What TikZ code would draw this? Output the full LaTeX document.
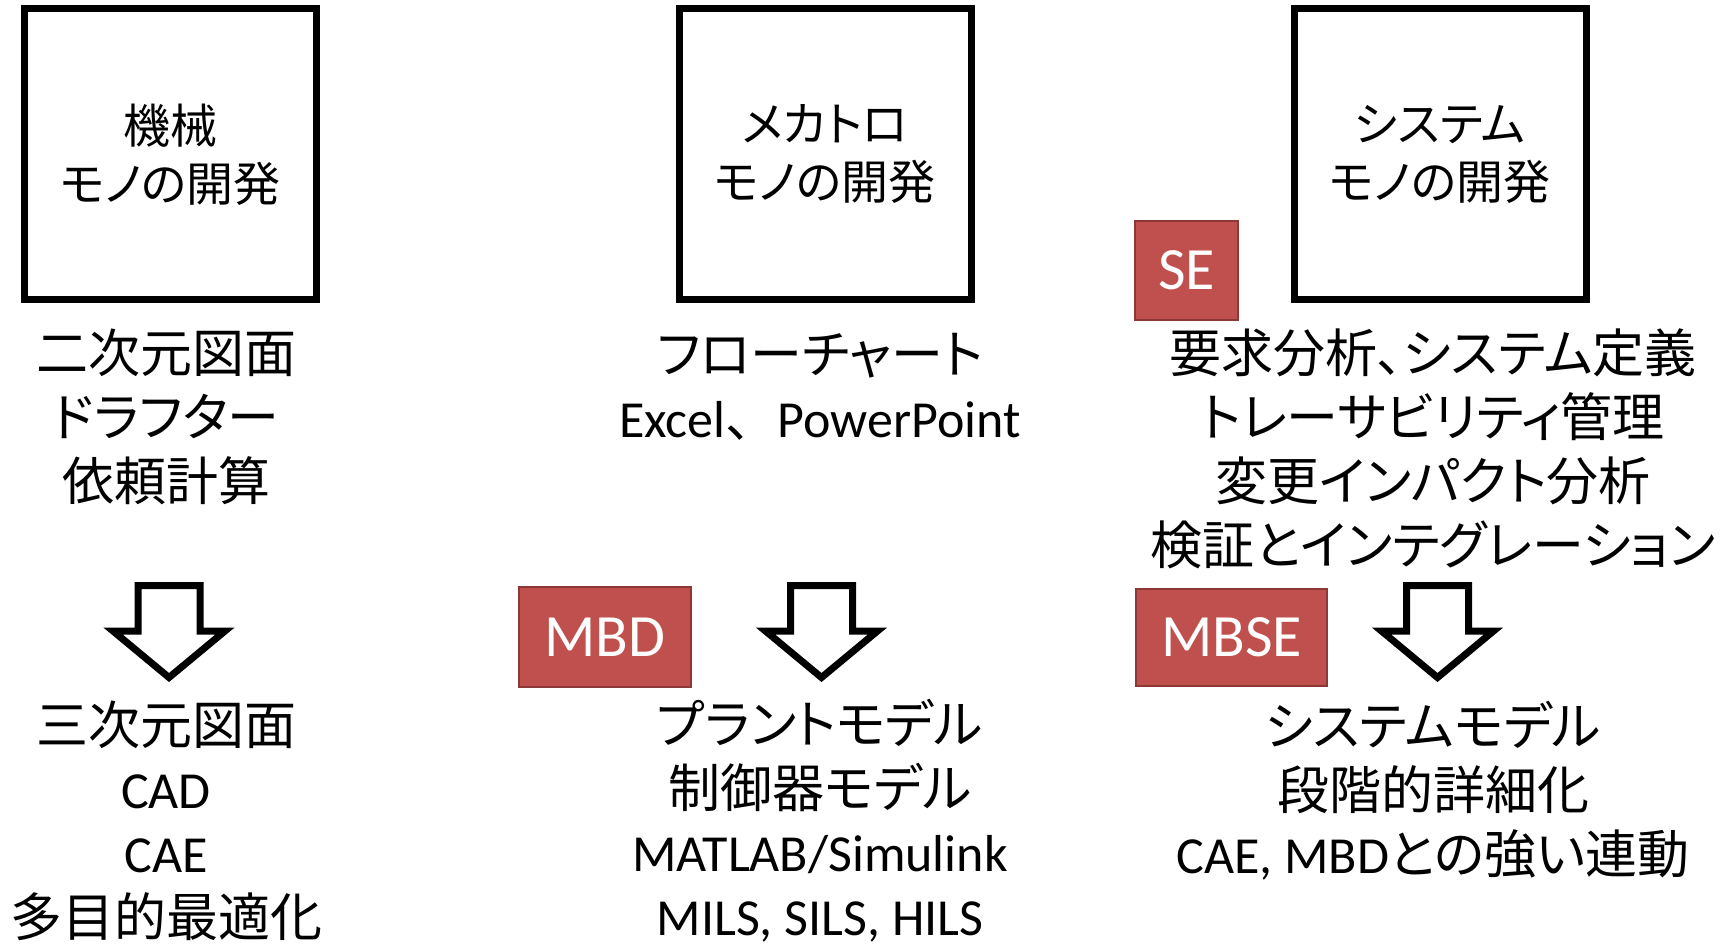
\documentclass[tikz,border=0pt]{standalone}
\usepackage{fontspec}
\setmainfont{Carlito}
\newfontfamily\cjk[RawFeature=+palt]{Noto Sans CJK JP}
\newfontfamily\cjkfull{Noto Sans CJK JP}
\definecolor{labelred}{HTML}{C0504D}
\definecolor{labelredline}{HTML}{8C3836}
\tikzset{
  devbox/.style={draw, line width=7pt, minimum width=292pt, minimum height=291pt, inner sep=0pt, align=center, font=\cjk\fontsize{47}{58}\selectfont},
  txtblock/.style={align=center, inner sep=0pt, font=\fontsize{52}{64}\selectfont},
  redlabel/.style={fill=labelred, draw=labelredline, line width=1.5pt, text=white, inner sep=0pt, font=\fontsize{60}{60}\selectfont},
  downarr/.pic={\draw[line width=7pt, miter limit=10] (-31,0) -- (31,0) -- (31,45.5) -- (56,45.5) -- (0,92) -- (-56,45.5) -- (-31,45.5) -- cycle;}
}
\begin{document}
\begin{tikzpicture}[x=1pt,y=-1pt]
\useasboundingbox (0,0) rectangle (1724,946);
% top boxes
\node[devbox] (b1) at (170.5,154.3) {機械\\モノの開発};
\node[devbox] (b2) at (825,154.3) {メカトロ\\モノの開発};
\node[devbox] (b3) at (1440,154.3) {システム\\モノの開発};
% upper text blocks
\node[txtblock] (t1) at (166,417) {{\cjk 二次元図面}\\{\cjk ドラフター}\\{\cjk 依頼計算}};
\node[txtblock] (t2) at (820,386.5) {{\cjk フローチャート}\\Excel{\cjkfull 、}PowerPoint};
\node[txtblock] (t3) at (1433,449) {{\cjk 要求分析、システム定義}\\{\cjk トレーサビリティ管理}\\{\cjk 変更インパクト分析}\\{\cjk 検証とインテグレーション}};
% labels
\node[redlabel, minimum width=103pt, minimum height=99pt] (se) at (1186.5,270.5) {SE};
\node[redlabel, minimum width=172pt, minimum height=100pt] (mbd) at (605,637) {MBD};
\node[redlabel, minimum width=191pt, minimum height=97pt] (mbse) at (1231.5,637.5) {MBSE};
% arrows
\pic at (169,585.5) {downarr};
\pic at (821.5,585.5) {downarr};
\pic at (1437.5,585.5) {downarr};
% lower text blocks
\node[txtblock] (l1) at (166,821) {{\cjk 三次元図面}\\CAD\\CAE\\{\cjk 多目的最適化}};
\node[txtblock] (l2) at (820,821) {{\cjk プラントモデル}\\{\cjk 制御器モデル}\\MATLAB/Simulink\\MILS, SILS, HILS};
\node[txtblock] (l3) at (1433,790.5) {{\cjk システムモデル}\\{\cjk 段階的詳細化}\\CAE, MBD{\cjk との強い連動}};
\end{tikzpicture}
\end{document}
